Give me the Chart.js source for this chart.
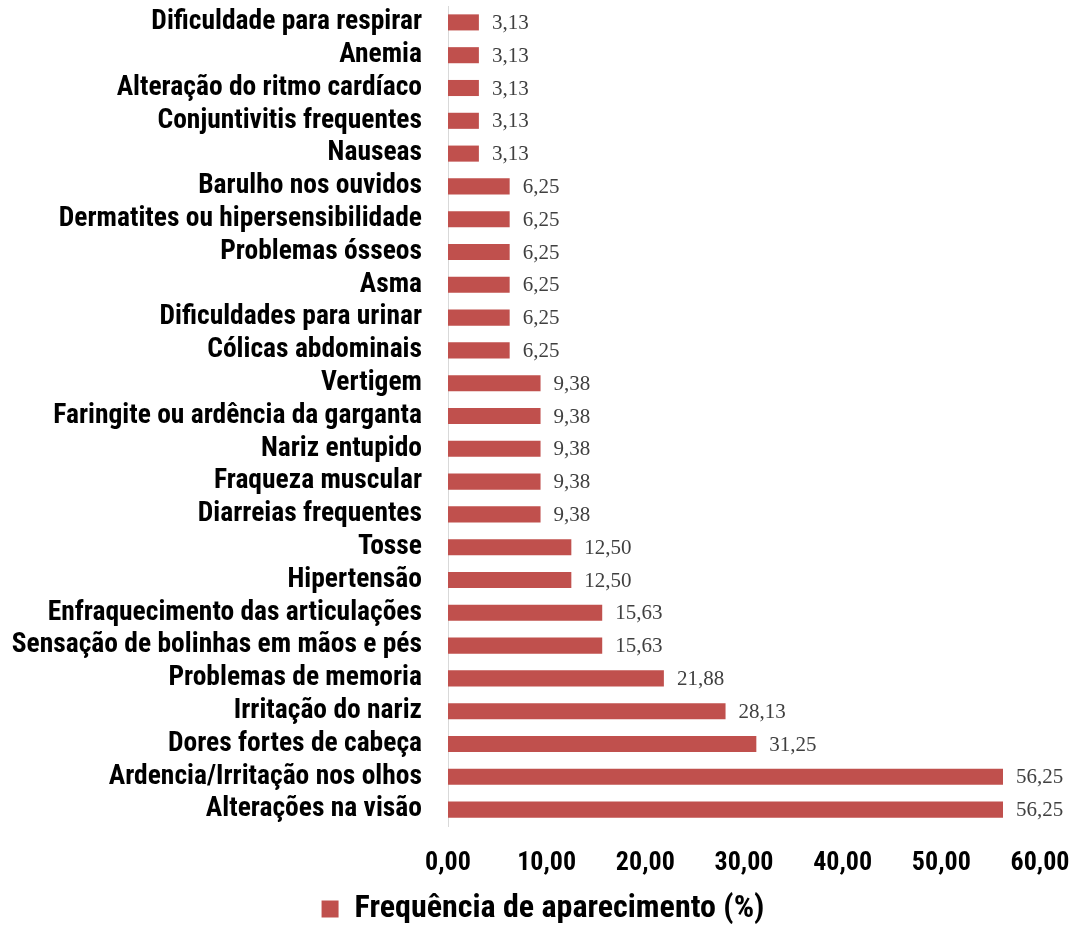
<!DOCTYPE html>
<html>
<head>
<meta charset="utf-8">
<script src="https://cdn.jsdelivr.net/npm/chart.js@4"></script>
<style>
  body { margin: 0; background: #fff; }
  #wrap { width: 1078px; height: 931px; }
</style>
</head>
<body>
<div id="wrap"><canvas id="chart"></canvas></div>
<script>
const categories = [
  "Dificuldade para respirar",
  "Anemia",
  "Alteração do ritmo cardíaco",
  "Conjuntivitis frequentes",
  "Nauseas",
  "Barulho nos ouvidos",
  "Dermatites ou hipersensibilidade",
  "Problemas ósseos",
  "Asma",
  "Dificuldades para urinar",
  "Cólicas abdominais",
  "Vertigem",
  "Faringite ou ardência da garganta",
  "Nariz entupido",
  "Fraqueza muscular",
  "Diarreias frequentes",
  "Tosse",
  "Hipertensão",
  "Enfraquecimento das articulações",
  "Sensação de bolinhas em mãos e pés",
  "Problemas de memoria",
  "Irritação do nariz",
  "Dores fortes de cabeça",
  "Ardencia/Irritação nos olhos",
  "Alterações na visão"
];
const frequencia = [
  3.13, 3.13, 3.13, 3.13, 3.13,
  6.25, 6.25, 6.25, 6.25, 6.25, 6.25,
  9.38, 9.38, 9.38, 9.38, 9.38,
  12.50, 12.50,
  15.63, 15.63,
  21.88, 28.13, 31.25, 56.25, 56.25
];
const xTicks = [0, 10, 20, 30, 40, 50, 60];

const fmt = (v) => v.toFixed(2).replace(".", ",");
const narrow = "'Roboto Condensed', 'Liberation Sans', sans-serif";

// value labels at the end of each bar
const valueLabels = {
  id: "valueLabels",
  afterDatasetsDraw(chart) {
    const ctx = chart.ctx;
    ctx.save();
    ctx.font = "21px 'Liberation Serif', 'Times New Roman', serif";
    ctx.fillStyle = "#404040";
    ctx.textBaseline = "middle";
    chart.getDatasetMeta(0).data.forEach((bar, i) => {
      ctx.fillText(fmt(frequencia[i]), bar.x + 13, bar.y + 1);
    });
    ctx.restore();
  },
};

new Chart(document.getElementById("chart"), {
  type: "bar",
  data: {
    labels: categories,
    datasets: [
      {
        label: "Frequência de aparecimento (%)",
        data: frequencia,
        backgroundColor: "#C0504D",
        barPercentage: 0.49,
        categoryPercentage: 1,
      },
    ],
  },
  options: {
    indexAxis: "y",
    responsive: true,
    maintainAspectRatio: false,
    animation: false,
    layout: { padding: { top: 6, right: 0, left: 8, bottom: -4 } },
    scales: {
      x: {
        min: 0,
        max: 60,
        afterBuildTicks: (scale) => {
          scale.ticks = xTicks.map((v) => ({ value: v }));
        },
        afterFit: (scale) => {
          scale.paddingLeft = 0;
          scale.paddingRight = 38;
          scale.height = 51;
        },
        grid: { display: false, drawTicks: false },
        border: { display: false },
        ticks: {
          padding: 24,
          maxRotation: 0,
          color: "#000",
          font: { family: narrow, size: 26, weight: "bold", lineHeight: 1 },
          callback: (v) => fmt(v),
        },
      },
      y: {
        afterFit: (scale) => {
          scale.width = 440;
          scale.paddingTop = 0;
          scale.paddingBottom = 0;
        },
        grid: { display: false, drawTicks: false },
        border: { color: "#d9d9d9" },
        ticks: {
          padding: 26,
          autoSkip: false,
          color: "#000",
          font: { family: narrow, size: 27.5, weight: "bold", lineHeight: 1 },
        },
      },
    },
    plugins: {
      legend: {
        position: "bottom",
        labels: {
          boxWidth: 17,
          boxHeight: 17,
          padding: 16,
          color: "#000",
          font: { family: narrow, size: 32, weight: "bold", lineHeight: 1 },
        },
      },
      tooltip: { enabled: false },
    },
  },
  plugins: [valueLabels],
});
</script>
</body>
</html>
